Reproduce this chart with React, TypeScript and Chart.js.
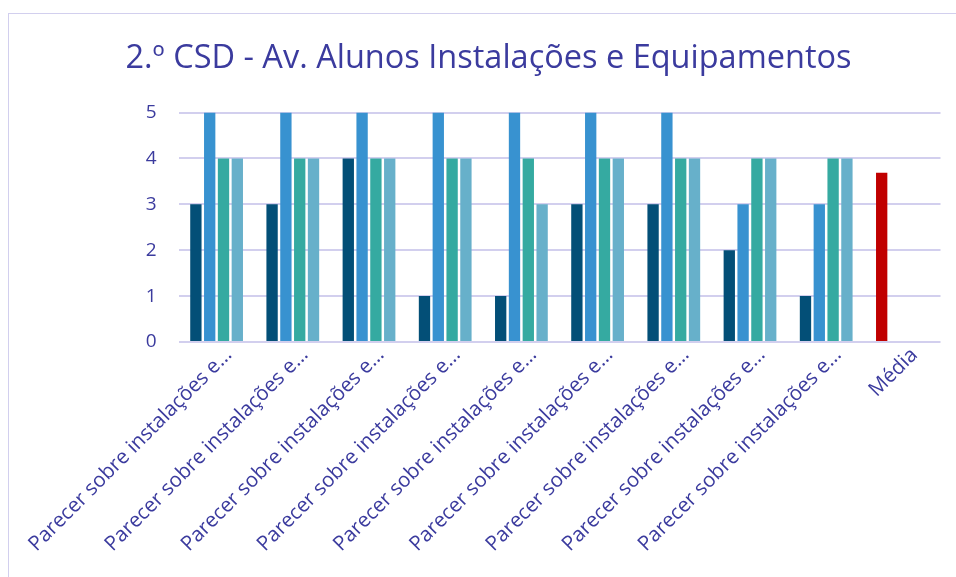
import React, { useEffect, useRef } from "react";
import { Chart, registerables } from "chart.js";

Chart.register(...registerables);

const titleText = "2.º CSD - Av. Alunos Instalações e Equipamentos";
const categories = [
  "Parecer sobre instalações e…",
  "Parecer sobre instalações e…",
  "Parecer sobre instalações e…",
  "Parecer sobre instalações e…",
  "Parecer sobre instalações e…",
  "Parecer sobre instalações e…",
  "Parecer sobre instalações e…",
  "Parecer sobre instalações e…",
  "Parecer sobre instalações e…",
  "Média",
];
const series1 = [3, 3, 4, 1, 1, 3, 3, 2, 1, 3.69];
const series2 = [5, 5, 5, 5, 5, 5, 5, 3, 3, null];
const series3 = [4, 4, 4, 4, 4, 4, 4, 4, 4, null];
const series4 = [4, 4, 4, 4, 3, 4, 4, 4, 4, null];
const yTicks = [0, 1, 2, 3, 4, 5];

const TEXT = "#3b3b9e";
const GRID = "#d2cfee";
const FONT = "'Open Sans', sans-serif";

export default function App() {
  const ref = useRef<HTMLCanvasElement | null>(null);
  useEffect(() => {
    if (!ref.current) return;
    const colors1 = series1.map((_, i) => (i === series1.length - 1 ? "#c00000" : "#034f77"));
    const chart = new Chart(ref.current, {
      type: "bar",
      data: {
        labels: categories,
        datasets: [
          { data: series1, backgroundColor: colors1 },
          { data: series2, backgroundColor: "#3892d0" },
          { data: series3, backgroundColor: "#35aaa1" },
          { data: series4, backgroundColor: "#67b0ca" },
        ],
      },
      options: {
        animation: false,
        responsive: false,
        maintainAspectRatio: false,
        devicePixelRatio: 1,
        datasets: {
          bar: { categoryPercentage: 0.725, barPercentage: 0.82 },
        },
        layout: { padding: { left: 27.5, right: 28.5, top: 0, bottom: 0 } },
        plugins: {
          legend: { display: false },
          tooltip: { enabled: false },
          title: {
            display: true,
            text: titleText,
            color: TEXT,
            font: { family: FONT, size: 32.5, weight: "normal" },
            padding: { top: 25.5, bottom: 34 },
          },
        },
        scales: {
          x: {
            grid: { display: false },
            border: { display: false },
            ticks: {
              color: TEXT,
              font: { family: FONT, size: 20.5 },
              maxRotation: 45,
              minRotation: 45,
              autoSkip: false,
              padding: -7,
              labelOffset: 12,
            },
            afterFit: (s: any) => {
              s.height = 242;
            },
          },
          y: {
            min: 0,
            max: 5,
            afterBuildTicks: (s: any) => {
              s.ticks = yTicks.map((v) => ({ value: v }));
            },
            grid: { color: GRID, lineWidth: 2, drawTicks: false },
            border: { display: false },
            ticks: {
              color: TEXT,
              font: { family: FONT, size: 19 },
              padding: 22,
            },
            afterFit: (s: any) => {
              s.width = 142;
            },
          },
        },
      },
    });
    return () => chart.destroy();
  }, []);
  return (
    <div style={{ position: "absolute", left: 0, top: 0, width: 956, height: 577, overflow: "hidden", background: "#fff" }}>
      <div
        style={{
          position: "absolute",
          left: 8,
          top: 13,
          width: 962,
          height: 600,
          borderLeft: "1.5px solid " + GRID,
          borderTop: "1.5px solid " + GRID,
          boxSizing: "border-box",
        }}
      >
        <canvas ref={ref} width={960} height={570} style={{ position: "absolute", left: 0, top: 0, width: 960, height: 570 }} />
      </div>
    </div>
  );
}
